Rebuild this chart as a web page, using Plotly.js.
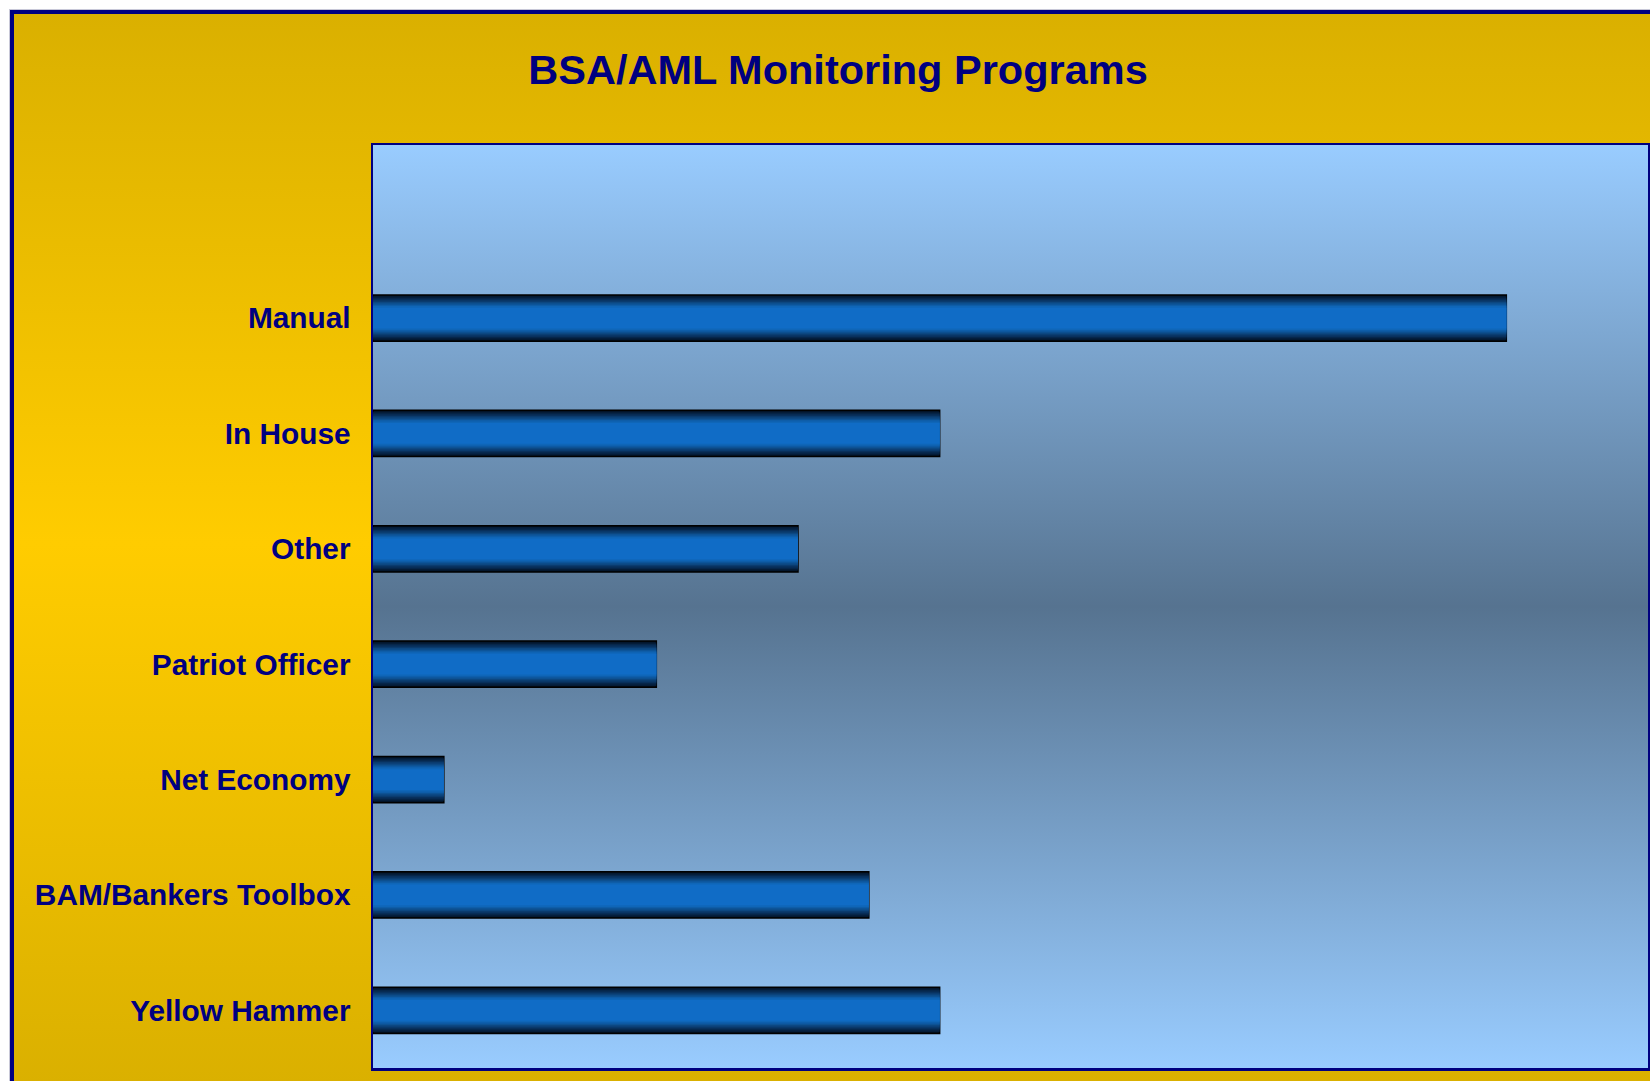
<!DOCTYPE html>
<html>
<head>
<meta charset="utf-8">
<script src="https://cdn.plot.ly/plotly-3.0.1.min.js"></script>
<style>
  html, body { margin: 0; padding: 0; background: #ffffff; overflow: hidden; width: 1650px; height: 1081px; }
  #frame {
    position: absolute; left: 10px; top: 10px; width: 1700px; height: 1150px;
    border-left: 4px solid #000080; border-top: 4px solid #000080;
    background: linear-gradient(to bottom, #DAB000 0px, #FFCC00 530px, #DAB000 1070px);
    box-shadow: -1px -1px 0 #c8c8d8;
  }
  #chart { position: absolute; left: 0; top: 0; width: 1650px; height: 1081px; }
</style>
</head>
<body>
<div id="frame"></div>
<div id="chart"></div>
<script>
// Data (bottom to top)
const categories = ["Yellow Hammer", "BAM/Bankers Toolbox", "Net Economy", "Patriot Officer", "Other", "In House", "Manual"];
const counts = [8, 7, 1, 4, 6, 8, 16];
const chartTitle = "BSA/AML Monitoring Programs";

// Layered bars to imitate the vertical shading of each bar
const layerWidths = [0.40, 0.376, 0.352, 0.328, 0.304, 0.28, 0.256, 0.232, 0.208, 0.18];
const layerColors = ["#021022", "#041C38", "#06264A", "#08305C", "#0A3B6E", "#0C4781", "#0D5294", "#0E5DA8", "#0F66B8", "#106CC6"];

const traces = layerWidths.map((w, i) => ({
  type: "bar",
  orientation: "h",
  y: categories,
  x: counts,
  width: categories.map(() => w),
  marker: {
    color: layerColors[i],
    line: { color: i === 0 ? "#000000" : layerColors[i], width: i === 0 ? 1.5 : 0 }
  },
  hoverinfo: i === 0 ? "x+y" : "skip",
  showlegend: false
}));

const gradSvg = '<svg xmlns="http://www.w3.org/2000/svg" width="100" height="100" preserveAspectRatio="none">' +
  '<defs><linearGradient id="g" x1="0" y1="0" x2="0" y2="1">' +
  '<stop offset="0" stop-color="#99CCFF"/>' +
  '<stop offset="0.5" stop-color="#567390"/>' +
  '<stop offset="1" stop-color="#99CCFF"/>' +
  '</linearGradient></defs><rect width="100" height="100" fill="url(#g)"/></svg>';
const gradUri = "data:image/svg+xml;base64," + btoa(gradSvg);

const layout = {
  width: 1650,
  height: 1081,
  margin: { l: 373, r: 2, t: 145, b: 13, pad: 0 },
  paper_bgcolor: "rgba(0,0,0,0)",
  plot_bgcolor: "rgba(0,0,0,0)",
  barmode: "overlay",
  title: {
    text: chartTitle,
    font: { family: "Liberation Sans, Arial, sans-serif", size: 41.5, color: "#000080", weight: "bold" },
    xref: "container", x: 838 / 1650, xanchor: "center",
    yref: "container", y: 1 - 69 / 1081, yanchor: "middle"
  },
  xaxis: {
    range: [0, 18],
    showticklabels: false,
    showgrid: false,
    zeroline: false,
    showline: true, mirror: true, linecolor: "#000080", linewidth: 2.5,
    fixedrange: true
  },
  yaxis: {
    type: "category",
    categoryorder: "array",
    categoryarray: categories,
    range: [-0.5, 7.5],
    showgrid: false,
    zeroline: false,
    showline: true, mirror: true, linecolor: "#000080", linewidth: 2.5,
    ticks: "",
    ticklabelstandoff: 14,
    tickfont: { family: "Liberation Sans, Arial, sans-serif", size: 29.8, color: "#000080", weight: "bold" },
    fixedrange: true
  },
  images: [{
    source: gradUri,
    xref: "paper", yref: "paper",
    x: 0, y: 1, sizex: 1, sizey: 1,
    xanchor: "left", yanchor: "top",
    sizing: "stretch",
    layer: "below"
  }]
};

Plotly.newPlot("chart", traces, layout, { displayModeBar: false, staticPlot: true });
</script>
</body>
</html>
